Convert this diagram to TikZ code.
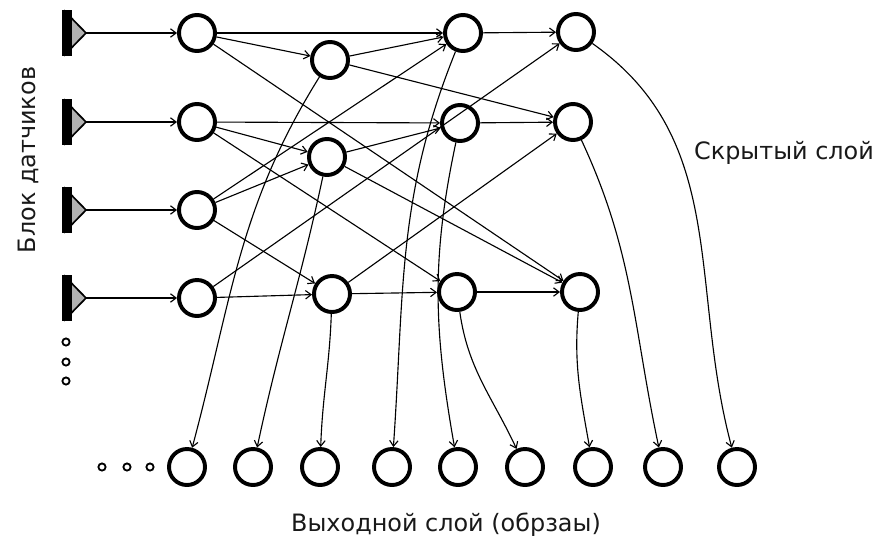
\documentclass[tikz,border=0pt]{standalone}
\usepackage{fontspec}
\setmainfont{DejaVu Sans}
\usepackage{tikz}
\usetikzlibrary{arrows.meta}

\begin{document}
\begin{tikzpicture}[
    x=0.025cm, y=0.025cm, >={Straight Barb[length=4pt,width=6pt]},
    neuron/.style={circle, draw, line width=2.8pt, minimum size=0.9cm, inner sep=0pt},
    dot/.style={circle, draw, line width=1.3pt, minimum size=0.18cm, inner sep=0pt},
    link/.style={->, line width=0.8pt},
    caption/.style={font=\fontsize{17}{20}\selectfont, text=black!90}
  ]
  \useasboundingbox (0,0) rectangle (886,-547);
  % Sensor block
  \foreach \i/\y in {1/33,2/122,3/210,4/298} {
    \coordinate (s\i) at (86,-\y);
    \draw[fill=gray!60, line width=1.2pt, line join=miter] (s\i) -- ++(-21,21.5) -- ++(0,-43) -- cycle;
    \draw[line width=7pt] (s\i) ++(-19,23) -- ++(0,-46);
    \node[neuron] (a\i) at (197,-\y) {};
  }
  \foreach \y [count=\k] in {342,362,381}
    \node[dot] (vd\k) at (66,-\y) {};
  % Hidden layer
  \node[neuron] (b1) at (330,-60) {};
  \node[neuron] (b2) at (327,-157) {};
  \node[neuron] (b3) at (332,-294) {};
  \node[neuron] (c1) at (463,-33) {};
  \node[neuron] (c2) at (460,-123) {};
  \node[neuron] (c3) at (457,-292) {};
  \node[neuron] (d1) at (576,-32) {};
  \node[neuron] (d2) at (573,-122) {};
  \node[neuron] (d3) at (580,-292) {};
  % Output layer
  \foreach \x [count=\k] in {187,253,320,392,458,525,593,663,737}
    \node[neuron] (o\k) at (\x,-467) {};
  \foreach \x [count=\k] in {102,127,150}
    \node[dot] (hd\k) at (\x,-467) {};
  % Links
  \foreach \i in {1,...,4}
    \draw[link] (s\i) -- (a\i);
  \draw[link] (a1) -- (b1);
  \draw[link] (a1) -- (c1);
  \draw[link] (a1) -- (d3);
  \draw[link] (a2) -- (b2);
  \draw[link] (a2) -- (c2);
  \draw[link] (a2) -- (c3);
  \draw[link] (a3) -- (b2);
  \draw[link] (a3) -- (c1);
  \draw[link] (a3) -- (b3);
  \draw[link] (a4) -- (b3);
  \draw[link] (a4) -- (d1);
  \draw[link] (b1) -- (c1);
  \draw[link] (b1) -- (d2);
  \draw[link] (b2) -- (c2);
  \draw[link] (b2) -- (d3);
  \draw[link] (b3) -- (c3);
  \draw[link] (b3) -- (d2);
  \draw[link] (c1) -- (d1);
  \draw[link] (c2) -- (d2);
  \draw[link] (c3) -- (d3);
  % Links to outputs
  \draw[link] (b1) to[out=-122, in=75] (o1);
  \draw[link] (b2) to[out=-102, in=78] (o2);
  \draw[link] (b3) to[out=-92, in=88] (o3);
  \draw[link] (c1) to[out=-112, in=86] (o4);
  \draw[link] (c2) to[out=-102, in=100] (o5);
  \draw[link] (c3) to[out=-82, in=115] (o6);
  \draw[link] (d3) to[out=-95, in=100] (o7);
  \draw[link] (d2) to[out=-65, in=102] (o8);
  \draw[link] (d1) to[out=-35, in=105] (o9);
  % Captions
  \node[caption, rotate=90] (sensorsLbl) at (28,-160) {Блок датчиков};
  \node[caption] (hiddenLbl) at (784,-153) {Скрытый слой};
  \node[caption] (outputLbl) at (446,-525) {Выходной слой (обрзаы)};
\end{tikzpicture}
\end{document}
